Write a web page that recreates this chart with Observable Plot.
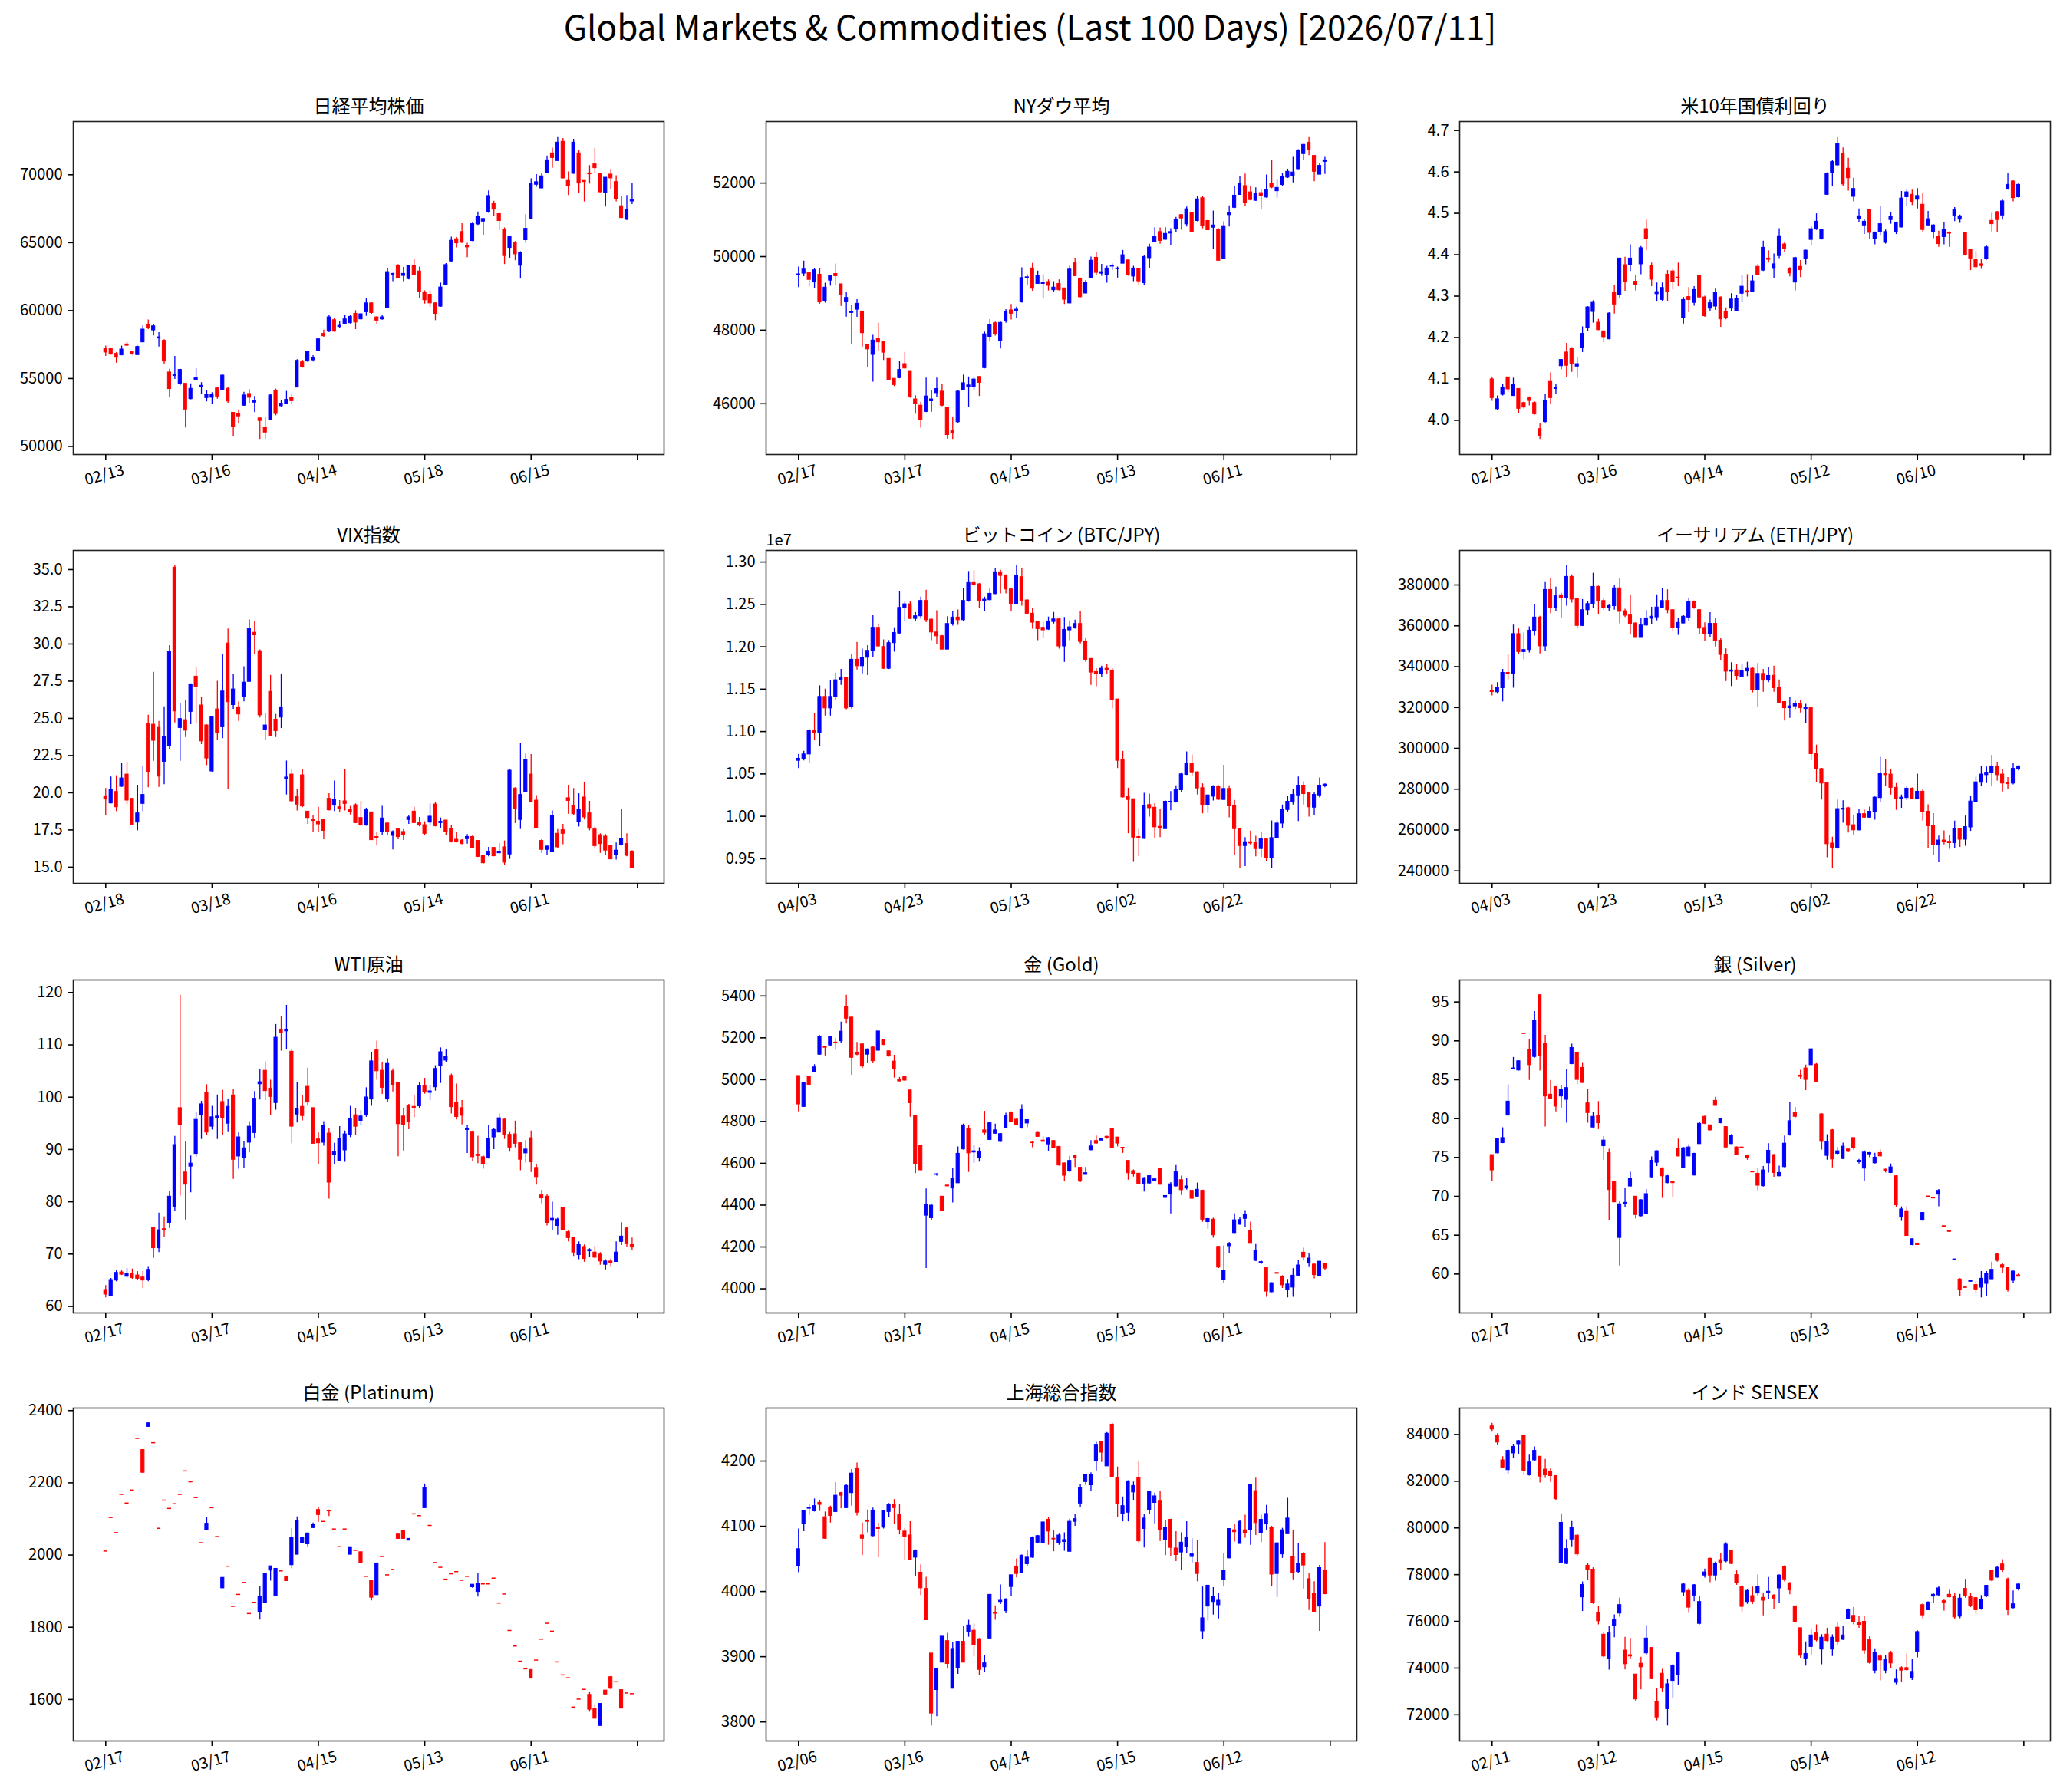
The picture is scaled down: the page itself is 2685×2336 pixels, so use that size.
<!DOCTYPE html>
<html>
<head>
<meta charset="utf-8">
<script src="https://cdn.jsdelivr.net/npm/d3@7"></script>
<script src="https://cdn.jsdelivr.net/npm/@observablehq/plot@0.6"></script>
<style>
  body { margin: 0; background: #fff; }
  #fig { position: relative; width: 2685px; height: 2336px; overflow: hidden; background: #fff; }
  .panel { position: absolute; }
  .panel svg { overflow: visible; max-width: none; }
</style>
</head>
<body>
<div id="fig"></div>
<script>
// Daily candles, [open, high, low, close], oldest first (100 sessions each)
const nikkei = [
[57200,57390,56630,56920],[57200,57250,56730,56770],[56820,56920,56130,56540],[56710,57390,56700,57140],[57520,57670,57390,57420],
[56950,57010,56730,56800],[56730,57390,56730,57330],[57670,58890,57630,58610],[58980,59320,58610,58740],[58550,58980,58140,58850],
[57950,58380,57330,58040],[57780,57860,56070,56260],[55450,55690,53630,54230],[55190,56630,54940,55300],[54600,55690,54470,55640],
[54620,54620,51370,52720],[53490,54620,53440,54250],[54890,55730,54850,55040],[54360,54700,53810,54470],[53570,54100,53290,53800],
[53590,53960,53120,53780],[54280,54380,53480,53680],[54130,55260,54100,55220],[54250,54320,53190,53310],[52480,52480,50710,51460],
[52400,52690,51650,52220],[53010,54000,52970,53760],[53870,54190,53190,53590],[53230,53680,52500,53340],[52070,52070,50520,51880],
[51410,52160,50520,51030],[51930,53810,51900,53760],[54100,54230,52270,52400],[52970,53380,52910,53160],[53160,54060,53120,53440],
[53590,53870,53120,53340],[54340,56390,54340,56310],[56200,56350,55770,55870],[56260,57010,56200,56950],[56350,56690,56220,56540],
[57050,57950,57010,57890],[58290,58570,58040,58120],[58460,59680,58380,59510],[59300,59400,58420,58460],[58800,59170,58700,58890],
[59020,59640,58980,59360],[59080,59640,59020,59550],[59770,60000,58610,59130],[59360,59770,59320,59740],[59890,60900,59590,60540],
[60540,60580,59740,59830],[59510,59550,58950,59270],[59360,59640,59300,59510],[60210,63120,60170,62840],[62630,62740,62140,62710],
[63310,63400,62370,62420],[62560,63180,62140,62710],[62330,63350,62270,63310],[63310,63780,62590,62630],[62890,63210,60900,61390],
[61300,61460,60490,60770],[61180,61460,60260,60540],[60540,60580,59270,59770],[60300,62030,60260,61710],[61900,63460,61840,63360],
[63630,65410,63570,65150],[65260,65380,64620,64960],[65790,66410,64960,65000],[64760,64960,63910,64660],[65130,66500,65070,66370],
[66350,67260,66280,66940],[66560,66790,65560,66750],[67220,68820,67160,68440],[67860,68050,66920,67440],[67110,67160,65900,66600],
[65940,66090,63400,64020],[64620,65470,63870,65430],[64980,65090,63680,64150],[63310,64340,62330,64250],[65190,67070,64960,66030],
[66750,69700,66750,69320],[69270,70020,69080,69460],[69000,70080,68990,69890],[70130,71390,70080,71070],[71580,71960,70490,71240],
[71020,72800,70980,72370],[72430,72670,69700,69740],[69610,70210,68480,69190],[70080,72610,70040,72370],[71580,71770,68630,69360],
[69610,69610,68010,69470],[70110,70680,69320,70040],[70770,71960,70080,70490],[70080,70110,68680,68720],[68670,69790,67630,69790],
[70020,70400,68950,69740],[69470,69930,68010,68230],[67690,68380,66790,66820],[66690,68480,66650,67440],[68040,69360,67820,68140]
];
const dow = [
[49490,49720,49160,49520],[49540,49880,49460,49650],[49560,49580,49180,49370],[49300,49680,49140,49630],[49510,49670,48710,48760],
[48780,49280,48740,49160],[49350,49490,49200,49470],[49530,49800,49230,49470],[49250,49250,48650,48950],[48760,49040,48360,48880],
[48470,48670,47610,48500],[48560,48830,48350,48720],[48510,48510,47540,47920],[47610,47610,46990,47480],[47330,47860,46590,47720],
[47760,48190,47420,47670],[47690,47700,47180,47390],[47220,47220,46630,46650],[46680,46680,46470,46510],[46700,47150,46680,46920],
[47080,47400,46940,46960],[46890,46890,46150,46190],[46120,46220,45720,46000],[45950,46040,45340,45550],[45780,46700,45760,46200],
[46070,46350,45770,46120],[46290,46700,46170,46400],[46330,46520,45920,45950],[45900,45900,45040,45150],[45260,45620,45030,45190],
[45500,46350,45460,46330],[46380,46780,46370,46560],[46450,46730,45900,46500],[46450,46730,46350,46660],[46730,46730,46200,46570],
[46970,47950,46950,47890],[47820,48290,47680,48150],[48190,48220,47840,47900],[47700,48220,47490,48200],[48260,48560,48190,48510],
[48540,48700,48280,48450],[48520,48630,48330,48560],[48760,49700,48740,49420],[49420,49510,49230,49440],[49680,49820,49060,49130],
[49260,49610,49250,49470],[49260,49510,48850,49280],[49310,49370,49070,49210],[49090,49320,49020,49160],[49260,49370,49070,49090],
[49140,49140,48700,48830],[48730,49740,48720,49650],[49820,49960,49460,49470],[49400,49420,48880,48900],[49000,49350,48990,49280],
[49420,49990,49400,49890],[49970,50110,49490,49560],[49540,49790,49470,49580],[49510,49740,49280,49680],[49730,49800,49630,49750],
[49660,49720,49420,49680],[49810,50170,49810,50040],[49900,49900,49470,49490],[49460,49740,49320,49680],[49670,49680,49210,49330],
[49280,50040,49210,49990],[49960,50340,49670,50250],[50400,50790,50390,50550],[50670,50780,50340,50430],[50460,50790,50450,50620],
[50630,50760,50310,50670],[50740,51070,50670,51010],[51130,51150,50720,51040],[50880,51350,50810,51290],[51200,51210,50650,50670],
[50970,51630,50950,51560],[51590,51630,50760,50840],[50970,51010,50710,50720],[50790,51240,50200,50850],[50740,50760,49880,49890],
[49940,50950,49920,50830],[51130,51380,50810,51190],[51330,51900,51310,51660],[51680,52180,51680,51990],[51920,52250,51360,51450],
[51750,51920,51520,51540],[51520,51870,51510,51700],[51730,51820,51280,51640],[51610,52220,51590,51820],[51990,52630,51850,51880],
[51780,52100,51590,51870],[51950,52260,51920,52160],[52150,52380,52130,52310],[52200,52700,52010,52290],[52380,52910,52370,52890],
[52790,53050,52630,53040],[53100,53260,52750,52890],[52740,52750,52040,52310],[52230,52540,52230,52470],[52580,52700,52240,52620]
];
const us10y = [
[4.099,4.104,4.046,4.054],[4.027,4.059,4.023,4.051],[4.062,4.087,4.059,4.079],[4.104,4.104,4.067,4.075],[4.059,4.102,4.058,4.086],
[4.076,4.076,4.017,4.028],[4.042,4.045,4.027,4.031],[4.055,4.057,4.035,4.047],[4.042,4.045,4.013,4.015],[3.979,3.993,3.954,3.962],
[3.996,4.064,3.994,4.047],[4.093,4.115,4.039,4.054],[4.076,4.087,4.062,4.079],[4.131,4.147,4.122,4.146],[4.164,4.186,4.104,4.132],
[4.173,4.176,4.116,4.136],[4.130,4.151,4.102,4.136],[4.176,4.226,4.164,4.209],[4.224,4.275,4.215,4.273],[4.262,4.289,4.235,4.284],
[4.236,4.244,4.217,4.218],[4.215,4.217,4.188,4.201],[4.196,4.260,4.195,4.258],[4.308,4.325,4.257,4.280],[4.302,4.392,4.295,4.391],
[4.375,4.394,4.312,4.334],[4.375,4.424,4.360,4.391],[4.335,4.349,4.313,4.326],[4.377,4.420,4.352,4.416],[4.462,4.484,4.410,4.439],
[4.374,4.380,4.323,4.340],[4.305,4.332,4.286,4.310],[4.291,4.332,4.288,4.320],[4.352,4.362,4.288,4.311],[4.360,4.365,4.315,4.334],
[4.345,4.380,4.323,4.343],[4.247,4.297,4.233,4.291],[4.298,4.321,4.260,4.291],[4.284,4.323,4.276,4.315],[4.349,4.350,4.295,4.297],
[4.297,4.300,4.249,4.252],[4.270,4.291,4.264,4.283],[4.275,4.317,4.266,4.308],[4.297,4.298,4.225,4.244],[4.263,4.272,4.243,4.247],
[4.270,4.306,4.262,4.292],[4.264,4.301,4.263,4.294],[4.306,4.350,4.284,4.323],[4.312,4.352,4.298,4.309],[4.311,4.349,4.309,4.336],
[4.371,4.377,4.349,4.351],[4.362,4.433,4.360,4.417],[4.391,4.410,4.380,4.388],[4.366,4.402,4.342,4.377],[4.397,4.463,4.391,4.445],
[4.425,4.429,4.405,4.415],[4.366,4.369,4.347,4.355],[4.333,4.394,4.313,4.392],[4.371,4.386,4.345,4.363],[4.391,4.411,4.376,4.410],
[4.436,4.468,4.422,4.462],[4.461,4.499,4.459,4.480],[4.437,4.460,4.436,4.460],[4.545,4.598,4.544,4.596],[4.598,4.627,4.564,4.624],
[4.616,4.685,4.613,4.667],[4.644,4.658,4.564,4.570],[4.608,4.633,4.554,4.585],[4.540,4.585,4.528,4.559],[4.487,4.511,4.478,4.493],
[4.471,4.486,4.449,4.480],[4.508,4.510,4.436,4.453],[4.439,4.455,4.424,4.453],[4.455,4.516,4.447,4.474],[4.429,4.460,4.426,4.455],
[4.484,4.503,4.474,4.492],[4.455,4.479,4.449,4.478],[4.466,4.553,4.465,4.536],[4.539,4.558,4.516,4.551],[4.545,4.556,4.519,4.528],
[4.533,4.560,4.511,4.542],[4.521,4.549,4.455,4.460],[4.471,4.505,4.470,4.486],[4.454,4.473,4.439,4.471],[4.444,4.457,4.418,4.426],
[4.443,4.478,4.424,4.461],[4.453,4.455,4.418,4.451],[4.494,4.514,4.480,4.508],[4.485,4.496,4.476,4.493],[4.453,4.454,4.397,4.400],
[4.412,4.414,4.362,4.391],[4.387,4.408,4.365,4.370],[4.377,4.389,4.365,4.373],[4.389,4.421,4.387,4.418],[4.482,4.500,4.455,4.474],
[4.503,4.505,4.453,4.484],[4.495,4.532,4.484,4.529],[4.558,4.596,4.556,4.569],[4.577,4.579,4.528,4.537],[4.539,4.571,4.537,4.569]
];
const vix = [
[19.77,20.29,18.45,19.55],[19.29,21.06,19.26,20.20],[20.06,21.15,18.74,19.03],[20.41,22.00,20.37,20.97],[21.23,22.06,19.21,19.48],
[19.60,19.60,17.80,17.85],[18.00,20.51,17.45,18.62],[19.26,21.75,18.74,19.86],[24.63,25.21,20.34,21.40],[24.58,28.10,22.12,23.50],
[24.37,24.80,20.37,21.09],[22.09,25.78,20.55,23.76],[23.15,29.90,22.91,29.47],[35.14,35.27,24.70,25.47],[24.36,26.00,22.12,24.96],
[24.89,26.21,23.72,24.18],[25.44,27.33,24.58,27.27],[27.81,28.44,24.67,27.12],[25.87,26.42,23.24,23.46],[24.53,24.58,21.83,22.31],
[21.44,25.09,21.40,25.09],[25.61,27.50,23.55,24.03],[24.41,29.27,23.64,26.81],[30.04,31.02,20.24,26.09],[25.90,27.93,25.61,26.95],
[25.75,26.12,24.80,25.27],[26.43,28.48,26.12,27.41],[27.46,31.62,27.46,31.02],[30.76,31.50,29.33,30.59],[29.52,29.61,25.04,25.21],
[24.24,25.35,23.50,24.53],[26.79,27.89,23.81,23.84],[24.92,25.27,23.72,24.15],[25.06,27.96,24.32,25.75],[20.94,22.14,19.86,21.03],
[21.23,21.58,19.38,19.43],[19.72,20.24,18.79,19.21],[21.18,21.58,19.00,19.09],[18.74,18.74,17.88,18.31],[18.18,18.49,17.37,18.11],
[18.06,19.03,17.37,17.88],[18.18,18.23,16.85,17.45],[19.60,19.94,18.79,18.83],[19.14,20.80,18.74,19.52],[19.03,19.48,18.66,18.91],
[19.43,21.54,18.79,19.26],[18.86,19.09,18.52,18.69],[19.17,19.26,17.94,17.97],[18.31,19.43,17.80,17.80],[17.80,18.97,17.76,18.83],
[18.69,18.69,16.80,16.82],[17.03,17.37,16.42,16.94],[17.37,19.09,17.11,18.28],[17.94,17.97,17.11,17.37],[17.11,17.45,16.17,17.37],
[17.54,17.63,16.85,17.03],[17.37,17.54,16.80,17.15],[18.18,18.49,17.88,18.35],[18.74,19.03,17.94,17.97],[17.97,18.35,17.71,17.80],
[17.83,18.06,17.15,17.25],[18.00,19.26,17.76,18.40],[19.22,19.38,17.71,17.76],[17.97,18.31,17.63,18.06],[18.14,18.14,17.11,17.37],
[17.59,17.80,16.63,16.73],[16.85,17.37,16.63,16.68],[16.80,16.85,16.51,16.56],[16.89,17.20,16.56,17.03],[17.03,17.15,16.25,16.29],
[16.77,16.80,15.65,15.70],[15.79,15.82,15.22,15.27],[15.82,16.34,15.70,16.05],[16.30,16.34,15.70,15.74],[15.94,16.60,15.91,16.05],
[16.34,16.77,15.14,15.31],[15.86,21.54,15.53,21.49],[20.29,20.34,17.94,18.91],[18.18,23.33,17.54,19.86],[20.06,22.61,20.03,22.23],
[21.23,22.57,19.34,19.38],[19.48,19.82,17.59,17.63],[16.77,16.85,15.94,16.17],[16.17,16.42,15.77,16.39],[16.05,18.79,16.05,18.45],
[17.25,17.54,16.29,16.34],[17.49,17.88,16.51,17.25],[19.64,20.51,18.57,19.46],[19.14,20.29,18.49,18.57],[18.06,19.94,17.71,18.86],
[19.69,20.72,18.18,18.35],[18.62,19.43,17.45,17.59],[17.54,17.71,16.22,16.42],[17.15,17.25,15.94,16.56],[17.06,17.20,15.82,16.12],
[16.42,16.46,15.52,15.53],[15.82,16.63,15.48,16.12],[16.51,18.91,16.42,16.91],[16.56,17.25,15.70,15.77],[16.05,16.12,14.93,14.97]
];
// BTC/JPY in units of 1e7 yen
const btc = [
[1.0656,1.0731,1.0565,1.0680],[1.0677,1.0767,1.0656,1.0731],[1.0731,1.1027,1.0626,1.1012],[1.1012,1.1214,1.0897,1.0982],[1.0982,1.1540,1.0828,1.1410],
[1.1410,1.1501,1.1184,1.1274],[1.1274,1.1606,1.1184,1.1410],[1.1410,1.1691,1.1371,1.1606],[1.1606,1.1733,1.1546,1.1630],[1.1630,1.1636,1.1259,1.1274],
[1.1289,1.1914,1.1268,1.1848],[1.1848,1.2053,1.1727,1.1772],[1.1772,1.1974,1.1682,1.1872],[1.1872,1.2014,1.1661,1.1953],[1.1953,1.2367,1.1878,1.2225],
[1.2225,1.2270,1.1993,1.2005],[1.1998,1.2083,1.1733,1.1742],[1.1742,1.2074,1.1733,1.2044],[1.2044,1.2225,1.1938,1.2164],[1.2158,1.2656,1.2143,1.2460],
[1.2460,1.2527,1.2300,1.2502],[1.2502,1.2536,1.2324,1.2330],[1.2330,1.2406,1.2294,1.2361],[1.2361,1.2587,1.2330,1.2542],[1.2542,1.2668,1.2285,1.2315],
[1.2321,1.2330,1.2074,1.2170],[1.2170,1.2427,1.2029,1.2125],[1.2125,1.2134,1.1968,1.1968],[1.1968,1.2355,1.1968,1.2270],[1.2270,1.2415,1.2246,1.2346],
[1.2346,1.2436,1.2255,1.2315],[1.2315,1.2686,1.2300,1.2542],[1.2536,1.2889,1.2527,1.2753],[1.2753,1.2898,1.2708,1.2729],[1.2738,1.2747,1.2457,1.2542],
[1.2542,1.2587,1.2421,1.2557],[1.2551,1.2686,1.2542,1.2626],[1.2623,1.2919,1.2617,1.2880],[1.2880,1.2904,1.2626,1.2837],[1.2843,1.2849,1.2626,1.2677],
[1.2677,1.2686,1.2421,1.2505],[1.2505,1.2958,1.2496,1.2834],[1.2822,1.2919,1.2481,1.2542],[1.2548,1.2557,1.2385,1.2391],[1.2391,1.2451,1.2210,1.2285],
[1.2291,1.2300,1.2074,1.2210],[1.2225,1.2294,1.2095,1.2195],[1.2204,1.2352,1.2195,1.2300],[1.2294,1.2406,1.2270,1.2324],[1.2324,1.2330,1.1974,1.2005],
[1.2005,1.2346,1.1817,1.2201],[1.2195,1.2306,1.2074,1.2231],[1.2225,1.2315,1.2210,1.2270],[1.2270,1.2415,1.2035,1.2059],[1.2065,1.2095,1.1817,1.1848],
[1.1857,1.1863,1.1546,1.1697],[1.1703,1.1742,1.1531,1.1682],[1.1682,1.1772,1.1642,1.1742],[1.1742,1.1796,1.1673,1.1721],[1.1721,1.1742,1.1268,1.1371],
[1.1380,1.1380,1.0565,1.0656],[1.0662,1.0767,1.0218,1.0224],[1.0227,1.0333,0.9796,1.0194],[1.0203,1.0203,0.9458,0.9750],[0.9756,0.9847,0.9524,0.9741],
[0.9735,1.0272,0.9729,1.0128],[1.0134,1.0263,0.9992,1.0097],[1.0103,1.0152,0.9735,0.9871],[0.9877,1.0082,0.9750,0.9856],[0.9850,1.0182,0.9850,1.0173],
[1.0164,1.0294,1.0067,1.0173],[1.0164,1.0360,1.0158,1.0315],[1.0309,1.0505,1.0279,1.0496],[1.0490,1.0761,1.0484,1.0616],[1.0616,1.0725,1.0466,1.0511],
[1.0520,1.0526,1.0254,1.0330],[1.0333,1.0384,1.0031,1.0134],[1.0134,1.0254,1.0037,1.0248],[1.0233,1.0363,1.0182,1.0354],[1.0354,1.0363,1.0188,1.0197],
[1.0194,1.0604,1.0194,1.0324],[1.0324,1.0360,0.9983,1.0119],[1.0119,1.0188,0.9539,0.9850],[0.9856,0.9862,0.9388,0.9651],[0.9651,0.9750,0.9409,0.9696],
[0.9696,0.9826,0.9660,0.9681],[0.9684,0.9766,0.9524,0.9615],[0.9615,0.9811,0.9518,0.9729],[0.9729,0.9741,0.9464,0.9509],[0.9509,0.9947,0.9388,0.9744],
[0.9744,0.9947,0.9741,0.9916],[0.9916,1.0134,0.9862,1.0082],[1.0076,1.0233,1.0052,1.0173],[1.0167,1.0315,1.0134,1.0254],[1.0248,1.0466,0.9941,1.0363],
[1.0363,1.0408,1.0134,1.0263],[1.0272,1.0278,0.9992,1.0107],[1.0103,1.0278,1.0007,1.0254],[1.0248,1.0454,1.0218,1.0363],[1.0360,1.0384,1.0339,1.0375]
];
const eth = [
[328100,331000,325700,327600],[327500,332200,326600,329500],[329500,338700,322800,337000],[337000,346200,333500,336600],[336600,360400,329500,356000],
[356000,358500,346000,347200],[347200,356600,343500,348200],[348200,359500,346800,357700],[357500,370200,355000,364100],[364100,364700,346300,350000],
[350000,381200,347500,377600],[377600,383300,366000,368700],[368700,379000,367000,374500],[375000,376000,363700,373700],[373500,389500,369700,384000],
[384000,385000,371200,372900],[373200,373700,358500,360000],[360000,372900,359700,367700],[367700,372000,365000,370700],[370700,385800,368700,379100],
[379100,379500,365700,372000],[372200,373500,367700,368700],[368700,370600,367000,369700],[369700,379700,367700,378400],[378400,383100,361000,366900],
[367200,368200,364100,365000],[365100,375000,356000,361000],[361200,361600,354100,354100],[354100,363500,354100,360200],[360200,367500,359700,363700],
[363500,369100,360700,364500],[364200,375200,362500,369000],[368700,378200,368500,372200],[372200,377700,366000,367700],[367700,368000,357500,359000],
[359000,363500,355400,361500],[361200,365000,361000,364500],[364100,373500,362200,371600],[371600,372200,368200,368700],[367700,368000,356000,358700],
[359000,361500,352500,356000],[356000,366500,354100,361000],[361000,363700,349700,352700],[352800,353700,342800,345800],[346000,348700,332800,337600],
[337600,342000,330300,338200],[338200,341000,333500,335500],[335000,341200,334500,337800],[337700,342200,335200,339000],[339000,339500,327200,328700],
[328700,341600,320300,336500],[336500,338700,327500,333200],[333200,339700,332200,335500],[335600,340300,327500,329500],[329500,333500,322200,322400],
[322700,322900,313400,319700],[319700,325000,314700,320600],[320600,323100,319100,321800],[321600,323400,317400,319700],[319300,321600,312200,319900],
[319800,319800,294000,297200],[297200,301600,283400,289700],[289900,290200,274700,282800],[283000,283400,246500,253100],[253400,256500,241300,251300],
[251300,274700,250600,270300],[270000,274400,263400,270500],[270700,271200,258600,262100],[262400,266900,257400,259900],[259900,270300,259600,267800],
[267800,269900,265900,266100],[266100,271300,265900,269000],[268800,276200,264900,275900],[275700,295700,273700,287400],[287400,294400,281500,286900],
[287200,289700,277200,280700],[280700,282800,269700,275300],[275300,277200,270700,275900],[275700,281500,274400,280300],[280300,280700,274900,275000],
[275000,287400,275000,278800],[278800,279900,264400,269000],[269000,272400,250900,261900],[261900,268100,247800,252800],[252800,257100,244000,254900],
[254900,259600,252800,254000],[254300,257400,250600,253600],[253600,264400,250900,260600],[260600,260900,251500,255300],[255300,266900,252100,261500],
[261300,276500,259400,274000],[273700,285900,273400,283400],[283200,291200,281200,287200],[286900,290900,282800,287800],[287800,296500,281200,291200],
[291200,293200,284000,286900],[287200,289700,278700,282800],[283200,285700,279700,282500],[282800,292800,282200,290000],[289900,291500,289000,291200]
];
const wti = [
[63.16,63.99,61.65,62.28],[62.04,65.35,61.94,65.06],[64.96,66.81,64.72,66.42],[66.51,66.81,65.93,66.08],[65.69,67.29,65.44,66.27],
[66.27,67.15,65.20,65.44],[65.93,66.66,65.06,65.30],[65.54,66.66,63.40,64.96],[65.10,67.63,64.72,67.00],[75.02,75.17,69.19,71.13],
[71.13,77.84,70.31,74.58],[74.78,77.11,73.22,74.54],[75.99,82.07,74.92,81.00],[79.06,92.52,78.18,90.87],[97.92,119.50,81.10,94.61],
[85.62,91.45,76.53,83.29],[86.74,88.78,81.73,87.32],[89.17,97.14,88.54,95.68],[96.66,99.23,91.94,98.65],[100.84,102.39,92.77,93.25],
[94.37,98.26,93.74,96.17],[95.98,100.45,91.94,96.32],[99.09,101.32,92.77,96.07],[94.95,99.62,93.40,98.16],[100.35,101.52,84.31,88.05],
[88.68,93.16,86.25,92.33],[88.39,91.60,86.45,90.24],[91.31,95.34,89.36,94.37],[93.16,101.08,92.09,99.72],[102.49,105.31,99.47,102.88],
[105.07,106.77,99.38,101.18],[101.66,103.27,96.46,100.06],[98.89,113.91,97.53,111.39],[112.94,115.42,108.81,112.26],[112.60,117.56,109.10,112.94],
[108.71,109.10,91.11,94.37],[96.70,102.73,95.10,97.68],[98.16,100.35,95.49,96.41],[102.00,105.55,98.26,98.99],[97.92,97.92,91.11,91.11],
[91.94,93.16,87.08,91.21],[91.31,95.34,90.63,94.61],[93.06,93.98,80.52,83.68],[88.93,91.21,87.08,89.51],[87.81,94.37,87.71,92.09],
[89.85,93.54,87.56,92.91],[92.77,98.26,92.28,95.83],[96.56,97.77,92.67,94.37],[95.49,97.43,94.61,96.32],[96.56,101.81,96.17,99.96],
[99.57,108.47,98.26,106.86],[108.96,110.75,103.27,104.97],[105.07,106.62,100.54,101.81],[99.57,107.35,99.09,106.38],[104.97,105.41,101.03,102.29],
[102.73,102.73,88.63,94.86],[96.32,97.87,89.75,94.71],[98.26,98.65,93.79,95.34],[98.16,100.35,96.07,97.92],[98.26,102.73,97.92,102.15],
[102.15,103.61,100.59,100.93],[100.84,102.15,99.38,101.13],[101.91,106.04,101.18,105.41],[105.89,109.44,102.64,108.61],[107.01,109.20,106.62,107.74],
[104.09,104.43,96.80,98.11],[98.89,102.54,95.68,96.22],[97.92,99.38,94.71,96.46],[93.74,94.61,89.27,93.88],[93.40,93.54,87.71,88.54],
[89.02,92.57,87.32,88.78],[88.54,88.88,86.25,87.22],[88.29,94.61,88.20,92.04],[92.33,94.03,90.00,93.74],[93.25,96.80,93.16,95.98],
[95.73,95.83,91.94,92.82],[92.82,93.40,89.51,90.38],[92.91,95.44,90.34,91.11],[91.21,91.31,85.96,88.05],[89.27,91.70,87.42,90.00],
[92.18,93.54,85.62,87.56],[86.49,87.08,83.19,84.74],[81.24,82.22,79.64,80.66],[81.00,81.49,75.41,75.99],[76.38,79.93,74.58,76.77],
[75.41,76.87,73.61,76.63],[78.81,78.96,74.44,74.58],[74.20,74.44,72.35,73.08],[73.13,73.22,69.58,70.31],[69.82,72.35,68.95,71.76],
[71.38,71.76,68.46,69.09],[70.55,71.04,69.33,70.79],[70.31,71.52,69.09,69.33],[69.92,70.31,67.88,68.60],[67.97,68.95,67.00,68.60],
[68.60,69.09,67.63,68.36],[68.51,72.35,68.46,70.31],[72.35,76.04,71.67,73.37],[74.92,75.02,71.28,72.01],[71.76,73.08,70.79,71.28]
];
const gold = [
[5018,5018,4846,4882],[4870,4986,4868,4986],[5014,5016,4971,4974],[5036,5072,5035,5059],[5120,5211,5117,5206],
[5156,5156,5114,5153],[5164,5206,5160,5205],[5178,5197,5142,5176],[5184,5276,5175,5230],[5347,5404,5266,5292],
[5297,5300,5022,5105],[5127,5178,5115,5120],[5169,5169,5054,5063],[5120,5148,5077,5145],[5154,5158,5077,5089],
[5139,5231,5136,5231],[5191,5191,5164,5166],[5136,5136,5109,5111],[5087,5117,5008,5050],[4999,5011,4990,4992],
[5014,5016,4992,4996],[4949,4949,4821,4888],[4829,4831,4551,4597],[4685,4687,4565,4567],[4350,4478,4097,4401],
[4338,4402,4325,4398],[4545,4551,4539,4548],[4441,4441,4372,4374],[4494,4494,4490,4490],[4480,4575,4411,4526],
[4505,4679,4505,4646],[4667,4788,4664,4782],[4764,4782,4557,4648],[4652,4687,4600,4658],[4624,4675,4606,4657],
[4758,4849,4736,4746],[4712,4797,4709,4792],[4742,4788,4740,4758],[4703,4742,4701,4740],[4768,4840,4768,4825],
[4843,4846,4795,4797],[4809,4813,4780,4782],[4768,4880,4764,4855],[4791,4810,4770,4807],[4699,4703,4675,4697],
[4749,4752,4725,4727],[4709,4727,4701,4703],[4691,4724,4658,4721],[4707,4709,4673,4675],[4679,4679,4587,4590],
[4600,4602,4514,4541],[4561,4634,4557,4612],[4636,4639,4581,4626],[4579,4581,4508,4514],[4545,4581,4545,4553],
[4663,4709,4660,4681],[4707,4731,4693,4695],[4709,4719,4709,4719],[4727,4730,4715,4719],[4764,4764,4670,4673],
[4724,4724,4679,4695],[4675,4675,4648,4673],[4612,4612,4520,4553],[4563,4569,4535,4547],[4551,4551,4500,4502],
[4502,4533,4463,4529],[4504,4541,4502,4539],[4517,4529,4514,4524],[4572,4573,4496,4498],[4435,4444,4435,4444],
[4451,4508,4359,4500],[4490,4590,4487,4557],[4520,4539,4447,4472],[4480,4529,4472,4490],[4469,4472,4427,4431],
[4441,4506,4441,4474],[4469,4472,4319,4331],[4319,4338,4285,4334],[4331,4338,4242,4256],[4201,4201,4097,4102],
[4041,4206,4027,4088],[4204,4222,4171,4216],[4267,4359,4264,4328],[4307,4341,4305,4329],[4335,4374,4295,4356],
[4277,4319,4218,4219],[4134,4216,4130,4182],[4124,4134,4116,4128],[4100,4100,3960,3987],[3984,4029,3982,4027],
[4076,4076,4072,4072],[4057,4063,4002,4017],[3996,4045,3957,4021],[4006,4096,3960,4063],[4063,4136,4061,4112],
[4173,4195,4133,4149],[4121,4167,4106,4145],[4116,4118,4048,4066],[4061,4130,4060,4130],[4121,4122,4088,4097]
];
const silver = [
[75.32,75.32,71.94,73.35],[75.55,77.51,75.48,77.45],[76.86,78.83,76.79,77.51],[80.40,84.34,80.33,82.20],[86.37,87.88,86.30,86.47],
[86.21,87.45,86.14,87.39],[90.96,90.96,90.90,90.90],[88.86,90.17,84.93,86.89],[87.94,93.78,87.78,92.60],[95.88,95.88,86.14,88.11],
[89.58,90.73,78.92,82.86],[83.09,84.93,82.43,82.53],[84.07,84.07,80.89,81.55],[82.86,84.27,81.38,83.75],[82.43,86.37,79.42,83.94],
[87.03,89.58,86.96,89.09],[88.50,88.60,84.40,84.99],[86.53,87.12,84.57,84.60],[81.97,83.75,79.42,80.73],[78.86,80.79,78.83,80.24],
[80.40,82.20,78.60,79.42],[76.46,77.71,74.66,77.19],[75.58,76.07,66.95,70.82],[71.87,71.94,69.18,69.25],[64.66,69.41,61.05,68.99],
[68.99,71.05,68.53,69.18],[71.28,73.12,71.22,72.27],[69.97,69.97,67.12,67.61],[67.45,69.58,67.35,69.51],[67.77,70.89,67.71,70.30],
[72.46,75.09,72.36,74.59],[74.33,75.87,73.84,75.81],[73.61,73.68,69.74,72.59],[71.71,72.69,71.64,72.59],[71.87,71.94,69.90,71.71],
[76.07,77.38,75.09,75.15],[73.68,76.30,73.61,76.20],[75.15,76.63,75.09,76.30],[72.69,75.55,72.63,75.48],[76.73,79.58,76.73,79.35],
[80.24,80.33,79.25,79.35],[79.15,79.19,78.43,78.50],[82.30,82.76,81.61,81.65],[79.42,80.01,79.35,79.91],[78.92,78.99,76.23,76.30],
[76.73,77.94,76.69,77.84],[76.30,76.37,75.25,75.32],[76.30,76.30,76.20,76.20],[75.22,75.32,74.66,74.89],[73.18,73.18,73.09,73.09],
[72.92,73.68,70.72,71.38],[71.32,73.84,71.22,73.35],[74.27,76.79,73.02,75.87],[75.32,75.38,72.46,73.02],[72.59,73.91,72.53,73.02],
[73.77,77.78,73.68,76.79],[77.84,82.11,77.78,79.68],[80.73,81.45,80.01,80.24],[85.55,86.24,84.99,85.39],[86.47,86.89,83.61,84.99],
[86.89,88.99,86.83,88.93],[86.96,87.09,84.73,84.76],[80.56,80.63,75.97,77.02],[75.22,77.94,74.66,77.02],[78.50,78.60,73.68,74.76],
[75.48,76.30,75.22,75.81],[74.82,76.86,74.76,76.40],[76.04,76.07,75.64,75.74],[77.51,77.51,75.97,76.20],[74.40,74.76,74.17,74.59],
[73.58,75.87,71.87,75.64],[75.41,75.64,74.99,75.58],[74.27,75.55,74.17,74.99],[75.58,75.97,75.09,75.15],[73.45,73.51,73.02,73.25],
[73.02,74.17,72.95,73.74],[72.59,72.66,68.59,68.86],[67.28,68.66,66.79,68.33],[68.10,68.66,64.89,64.92],[63.74,64.56,63.67,64.49],
[63.94,63.94,63.74,63.74],[66.89,67.94,66.79,67.87],[70.00,70.00,69.94,69.94],[69.81,69.81,69.74,69.74],[70.23,70.89,68.66,70.72],
[66.17,66.17,66.10,66.10],[65.51,65.51,65.44,65.44],[61.84,61.90,61.84,61.90],[59.31,59.41,57.18,57.93],[58.29,58.29,58.23,58.23],
[59.02,59.18,59.02,59.18],[58.59,59.02,57.51,58.03],[58.26,60.33,56.95,59.41],[58.75,60.33,57.18,60.07],[59.34,61.54,59.31,60.56],
[62.53,62.62,61.54,61.71],[61.15,61.31,60.13,60.82],[60.82,60.89,57.70,58.03],[59.15,60.39,58.82,60.33],[59.84,60.13,59.64,59.67]
];
const platinum = [
[2011,2011,2011,2011],[2104,2104,2104,2104],[2062,2062,2062,2062],[2168,2168,2168,2168],[2144,2144,2144,2144],
[2180,2180,2180,2180],[2323,2323,2323,2323],[2291,2291,2228,2228],[2355,2365,2355,2365],[2311,2311,2311,2311],
[2074,2074,2074,2074],[2152,2152,2152,2152],[2129,2129,2129,2129],[2142,2142,2142,2142],[2168,2168,2168,2168],
[2233,2233,2233,2233],[2203,2203,2203,2203],[2159,2159,2159,2159],[2034,2034,2034,2034],[2069,2104,2068,2087],
[2131,2131,2131,2131],[2051,2051,2051,2051],[1908,1937,1908,1937],[1969,1969,1969,1969],[1858,1858,1858,1858],
[1891,1891,1891,1891],[1924,1924,1924,1924],[1838,1838,1838,1838],[1869,1869,1869,1869],[1841,1913,1820,1884],
[1867,1948,1867,1948],[1957,1969,1928,1969],[1887,1962,1887,1962],[1956,1956,1956,1956],[1939,1942,1928,1928],
[1972,2073,1962,2049],[2001,2106,2001,2095],[2033,2047,2033,2047],[2030,2061,2023,2060],[2075,2089,2074,2084],
[2125,2132,2091,2111],[2093,2093,2093,2093],[2123,2125,2107,2121],[2072,2072,2072,2072],[2023,2023,2023,2023],
[2072,2072,2072,2072],[2001,2022,2001,2022],[2013,2013,2013,2013],[2008,2008,1977,1977],[1941,1941,1941,1941],
[1930,1930,1873,1882],[1889,1977,1889,1977],[1996,1996,1996,1996],[1945,1945,1945,1945],[1960,1960,1960,1960],
[2057,2057,2045,2045],[2067,2067,2045,2045],[2040,2045,2040,2045],[2114,2114,2114,2114],[2109,2109,2109,2109],
[2130,2197,2130,2187],[2082,2082,2082,2082],[1979,1979,1979,1979],[1966,1966,1966,1966],[1933,1933,1933,1933],
[1948,1948,1948,1948],[1954,1954,1954,1954],[1930,1930,1930,1930],[1941,1941,1941,1941],[1911,1918,1908,1918],
[1898,1948,1884,1921],[1920,1920,1920,1920],[1920,1920,1920,1920],[1936,1936,1936,1936],[1867,1867,1867,1867],
[1892,1892,1892,1892],[1791,1791,1791,1791],[1748,1748,1748,1748],[1706,1706,1706,1706],[1685,1685,1685,1685],
[1682,1682,1658,1658],[1709,1709,1709,1709],[1767,1767,1767,1767],[1811,1811,1811,1811],[1789,1789,1789,1789],
[1704,1704,1704,1704],[1668,1668,1668,1668],[1660,1660,1660,1660],[1579,1579,1579,1579],[1601,1601,1601,1601],
[1628,1628,1628,1628],[1613,1620,1565,1572],[1574,1586,1547,1547],[1527,1588,1527,1588],[1625,1625,1614,1614],
[1662,1664,1627,1630],[1649,1649,1649,1649],[1626,1626,1575,1575],[1618,1618,1618,1618],[1616,1616,1616,1616]
];
const shanghai = [
[4039,4096,4029,4065],[4103,4124,4092,4123],[4127,4134,4117,4128],[4123,4142,4122,4131],[4136,4140,4123,4133],
[4114,4122,4080,4081],[4129,4131,4105,4116],[4122,4167,4121,4147],[4151,4152,4127,4147],[4128,4164,4127,4162],
[4151,4187,4131,4181],[4189,4197,4116,4121],[4086,4105,4055,4081],[4109,4125,4090,4107],[4085,4128,4084,4124],
[4098,4105,4052,4096],[4098,4123,4096,4123],[4122,4135,4113,4133],[4133,4141,4103,4128],[4117,4133,4087,4095],
[4092,4097,4048,4084],[4086,4107,4048,4048],[4052,4064,4023,4062],[4029,4041,3994,4005],[4004,4022,3956,3956],
[3905,3905,3794,3813],[3849,3882,3808,3882],[3891,3932,3891,3932],[3924,3936,3881,3889],[3851,3922,3851,3912],
[3883,3923,3873,3923],[3923,3947,3891,3891],[3938,3956,3930,3948],[3940,3950,3900,3918],[3927,3928,3871,3880],
[3884,3902,3876,3890],[3928,3995,3926,3995],[3967,3978,3956,3966],[3984,4010,3980,3986],[3970,3989,3966,3988],
[4007,4025,3992,4025],[4038,4050,4021,4027],[4029,4056,4028,4055],[4042,4063,4038,4052],[4052,4084,4051,4083],
[4075,4086,4074,4085],[4074,4107,4073,4106],[4110,4114,4071,4092],[4081,4093,4061,4080],[4074,4088,4071,4086],
[4076,4090,4062,4079],[4061,4111,4061,4107],[4107,4118,4100,4111],[4135,4164,4129,4159],[4168,4180,4163,4179],
[4163,4182,4153,4179],[4200,4229,4185,4224],[4229,4230,4198,4213],[4192,4244,4192,4242],[4256,4258,4176,4176],
[4174,4191,4113,4134],[4119,4145,4107,4131],[4121,4170,4107,4169],[4152,4168,4139,4162],[4174,4199,4074,4077],
[4096,4119,4067,4112],[4125,4153,4119,4153],[4136,4151,4104,4146],[4138,4153,4077,4094],[4079,4109,4055,4098],
[4110,4111,4054,4067],[4066,4092,4046,4056],[4060,4090,4033,4075],[4068,4107,4059,4083],[4053,4081,4043,4057],
[4044,4078,4015,4027],[3939,4007,3927,3959],[3977,4010,3955,4009],[3984,4006,3964,3992],[3979,3997,3958,3986],
[4018,4059,4008,4032],[4051,4096,4050,4096],[4094,4103,4076,4091],[4073,4109,4073,4107],[4094,4117,4082,4090],
[4094,4164,4071,4163],[4154,4174,4086,4105],[4090,4117,4075,4110],[4103,4132,4093,4119],[4098,4100,4008,4026],
[4027,4075,3991,4074],[4057,4097,4051,4094],[4088,4143,4088,4112],[4053,4094,4018,4028],[4030,4074,4028,4043],
[4058,4060,4004,4040],[4019,4028,3971,3989],[3996,4015,3969,3969],[3977,4040,3939,4036],[4032,4075,3995,3996]
];
const sensex = [
[84352,84484,84109,84220],[83966,84043,83526,83658],[82898,83053,82557,82590],[82480,83361,82293,83306],[83196,83581,82976,83471],
[83559,83746,83163,83724],[83966,83988,82260,82458],[82260,83119,82227,82810],[82898,83471,82865,83306],[83053,83053,81930,82205],
[82502,82942,82128,82260],[82425,82568,81952,82227],[82227,82227,81159,81236],[78517,80609,78517,80223],[78462,79508,78429,79100],
[79508,80278,79199,80003],[79673,79728,78792,78869],[77031,77691,76425,77559],[78385,78484,77746,78187],[78220,78297,76733,76788],
[76348,76645,75853,76007],[75434,75544,74444,74499],[74389,75787,73915,75489],[75820,76282,75302,76062],[76337,76998,76183,76700],
[74752,75324,73926,74168],[74554,75269,74389,74499],[73728,73728,72550,72660],[74190,74466,73067,74036],[74631,75820,74554,75269],
[74862,74884,73508,73530],[72550,73144,71746,71889],[73761,73948,72957,73122],[72242,73508,71526,73310],[73453,74168,72704,74080],
[73695,74686,73255,74631],[77251,77614,77053,77581],[77306,77416,76348,76590],[77108,77581,76844,77548],[75897,77064,75853,76832],
[77966,78242,77856,78099],[78682,78715,77658,77966],[77966,78539,77724,78484],[78627,78924,78187,78484],[78572,79365,78517,79288],
[79012,79034,78429,78462],[77988,78165,77548,77636],[77471,77548,76370,76623],[76832,77383,76733,77306],[77086,77471,76733,76844],
[77196,77988,77064,77493],[77009,77218,76238,76888],[77229,77878,76921,77273],[77108,77141,76513,76976],[77416,77999,76777,77966],
[78319,78385,77691,77801],[77636,77658,77141,77328],[76645,76667,75930,75963],[75710,75710,74422,74532],[74411,75126,74091,74609],
[74906,75655,74532,75401],[75489,75853,75126,75192],[74796,75434,74146,75302],[75434,75710,75126,75159],[74796,75423,74499,75302],
[75732,75930,74961,75137],[75214,75787,75192,75401],[76095,76535,76073,76480],[76238,76590,75853,75963],[75952,76227,75710,75853],
[75985,76205,74587,74752],[75192,75379,74168,74223],[73893,74829,73761,74642],[74499,74576,73453,74333],[73893,74532,73761,74355],
[74631,74719,73981,74201],[73376,73926,73288,73508],[74003,74058,73398,73893],[74003,74609,73871,73915],[73585,74367,73475,73838],
[74697,75599,74444,75544],[76700,76777,76117,76260],[76480,76843,76458,76810],[77064,77196,76777,77141],[77119,77504,77086,77416],
[76866,76921,76447,76810],[77141,77328,77009,77031],[77064,77196,76095,76172],[76205,77163,76117,76976],[77394,77801,76998,77086],
[77053,77196,76590,76678],[76998,77031,76315,76480],[76513,77108,76480,76921],[77064,77548,77031,77526],[78154,78187,77691,77746],
[77878,78352,77856,78297],[78440,78649,78099,78187],[77801,77856,76260,76480],[76568,77306,76535,76733],[77383,77614,77306,77581]
];

// Session dates shown under every 20th candle
const datesNikkei   = ["02/13", "03/16", "04/14", "05/18", "06/15"];
const datesUS       = ["02/17", "03/17", "04/15", "05/13", "06/11"];
const datesBond     = ["02/13", "03/16", "04/14", "05/12", "06/10"];
const datesVix      = ["02/18", "03/18", "04/16", "05/14", "06/11"];
const datesCrypto   = ["04/03", "04/23", "05/13", "06/02", "06/22"];
const datesShanghai = ["02/06", "03/16", "04/14", "05/15", "06/12"];
const datesSensex   = ["02/11", "03/12", "04/15", "05/14", "06/12"];

const panels = [
  {title: "日経平均株価", data: nikkei, dates: datesNikkei, yTicks: d3.range(50000, 70001, 5000), fmt: d3.format("d")},
  {title: "NYダウ平均", data: dow, dates: datesUS, yTicks: d3.range(46000, 52001, 2000), fmt: d3.format("d")},
  {title: "米10年国債利回り", data: us10y, dates: datesBond, yTicks: d3.range(4.0, 4.71, 0.1), fmt: d3.format(".1f")},
  {title: "VIX指数", data: vix, dates: datesVix, yTicks: d3.range(15, 35.01, 2.5), fmt: d3.format(".1f")},
  {title: "ビットコイン (BTC/JPY)", data: btc, dates: datesCrypto, yTicks: d3.range(0.95, 1.301, 0.05), fmt: d3.format(".2f"), offset: "1e7"},
  {title: "イーサリアム (ETH/JPY)", data: eth, dates: datesCrypto, yTicks: d3.range(240000, 380001, 20000), fmt: d3.format("d")},
  {title: "WTI原油", data: wti, dates: datesUS, yTicks: d3.range(60, 120.1, 10), fmt: d3.format("d")},
  {title: "金 (Gold)", data: gold, dates: datesUS, yTicks: d3.range(4000, 5400.1, 200), fmt: d3.format("d")},
  {title: "銀 (Silver)", data: silver, dates: datesUS, yTicks: d3.range(60, 95.1, 5), fmt: d3.format("d")},
  {title: "白金 (Platinum)", data: platinum, dates: datesUS, yTicks: d3.range(1600, 2400.1, 200), fmt: d3.format("d")},
  {title: "上海総合指数", data: shanghai, dates: datesShanghai, yTicks: d3.range(3800, 4200.1, 100), fmt: d3.format("d")},
  {title: "インド SENSEX", data: sensex, dates: datesSensex, yTicks: d3.range(72000, 84001, 2000), fmt: d3.format("d")}
];

// Layout (pixels)
const FONT = '"Noto Sans CJK JP", "Noto Sans", sans-serif';
const UP = "#0000ff", DOWN = "#ff0000";
const colLeft = [95, 998, 1902];
const rowTop = [158, 717, 1277, 1835];
const frameW = 770, frameH = 434;
const mL = 110, mR = 20, mT = 60, mB = 80;

const fig = document.getElementById("fig");

// Figure title
const head = d3.select(fig).append("svg")
  .attr("width", 2685).attr("height", 80)
  .style("position", "absolute").style("left", "0px").style("top", "0px");
head.append("text")
  .attr("x", 2685 / 2).attr("y", 52)
  .attr("text-anchor", "middle")
  .attr("font-family", FONT).attr("font-size", 44).attr("fill", "#000")
  .text("Global Markets & Commodities (Last 100 Days) [2026/07/11]");

function candleChart(p) {
  const rows = p.data.map(([o, h, l, c], i) => ({i, o, h, l, c, col: c > o ? UP : DOWN}));
  const flat = rows.filter(d => d.o === d.c);
  const lo = d3.min(rows, d => d.l), hi = d3.max(rows, d => d.h);
  const pad = (hi - lo) * 0.05;
  const xTicks = d3.range(0, 101, 20);
  const xLabels = p.dates.map((label, k) => ({i: k * 20, label}));
  const marks = [
    Plot.ruleX(rows, {x: "i", y1: "l", y2: "h", stroke: "col", strokeWidth: 1.3}),
    Plot.rect(rows, {x1: d => d.i - 0.3, x2: d => d.i + 0.3, y1: "o", y2: "c", fill: "col", stroke: "col", strokeWidth: 1}),
    // sessions where open equals close: a flat body
    Plot.ruleY(flat, {y: "c", x1: d => d.i - 0.37, x2: d => d.i + 0.37, stroke: "col", strokeWidth: 1.5}),
    Plot.frame({stroke: "#222", strokeWidth: 1.6}),
    Plot.axisY({ticks: p.yTicks, tickFormat: p.fmt, tickSize: 7, tickPadding: 7, strokeWidth: 1.6, fontSize: 20, label: null}),
    Plot.axisX({ticks: xTicks, tickFormat: () => "", tickSize: 7, strokeWidth: 1.6, label: null}),
    Plot.text(xLabels, {x: "i", text: "label", frameAnchor: "bottom", dy: 33, rotate: -15, fontSize: 20, fill: "#000"}),
    Plot.text([p.title], {frameAnchor: "top", dy: -12, lineAnchor: "bottom", fontSize: 24, fill: "#000"})
  ];
  if (p.offset) {
    marks.push(Plot.text([p.offset], {frameAnchor: "top-left", dy: -7, lineAnchor: "bottom", textAnchor: "start", fontSize: 20, fill: "#000"}));
  }
  return Plot.plot({
    width: frameW + mL + mR,
    height: frameH + mT + mB,
    marginLeft: mL, marginRight: mR, marginTop: mT, marginBottom: mB,
    style: {fontFamily: FONT, fontSize: "20px", color: "#000", background: "transparent", overflow: "visible", maxWidth: "none"},
    x: {domain: [-6.1, 105], axis: null},
    y: {domain: [lo - pad, hi + pad], axis: null},
    color: {type: "identity"},
    marks
  });
}

panels.forEach((p, k) => {
  const r = Math.floor(k / 3), c = k % 3;
  const holder = document.createElement("div");
  holder.className = "panel";
  holder.style.left = (colLeft[c] - mL) + "px";
  holder.style.top = (rowTop[r] - mT) + "px";
  holder.style.width = (frameW + mL + mR) + "px";
  holder.appendChild(candleChart(p));
  fig.appendChild(holder);
});
</script>
</body>
</html>
